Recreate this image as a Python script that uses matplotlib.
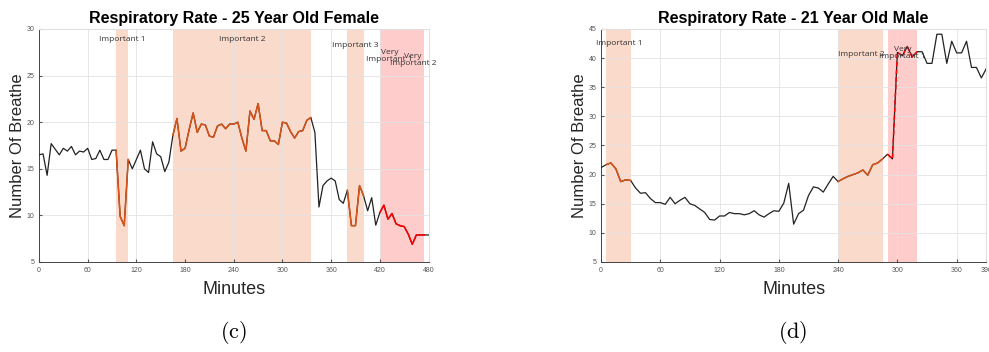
import numpy as np
import matplotlib
matplotlib.use("Agg")
import matplotlib.pyplot as plt

plt.rcParams['font.family'] = ['Liberation Sans', 'DejaVu Sans']
plt.rcParams['mathtext.fontset'] = 'cm'

### DATA ###

# (c) 25 year old female, one reading every 5 minutes
female_min = np.arange(0, 481, 5)
female_rate = [16.5, 16.6, 14.3, 17.7, 17.1, 16.5, 17.2, 16.9, 17.4, 16.5,
               16.9, 16.8, 17.2, 16.0, 16.1, 17.0, 16.0, 16.0, 17.0, 17.0,
               9.9, 8.9, 16.0, 15.0, 16.0, 17.0, 15.0, 14.6, 17.9, 16.6,
               16.3, 14.7, 15.7, 18.6, 20.4, 16.9, 17.2, 19.2, 21.0, 18.9,
               19.8, 19.7, 18.5, 18.4, 19.6, 19.8, 19.3, 19.8, 19.8, 20.0,
               18.3, 16.9, 21.2, 20.3, 22.0, 19.1, 19.1, 18.0, 18.0, 17.6,
               20.0, 19.9, 19.0, 18.3, 19.0, 19.1, 20.2, 20.5, 18.9, 10.9,
               13.2, 13.7, 14.0, 13.7, 11.7, 11.3, 12.7, 8.9, 8.9, 13.2,
               12.1, 10.5, 11.9, 8.95, 10.3, 11.1, 9.6, 10.2, 9.1, 8.9,
               8.8, 8.0, 6.9, 7.9, 7.9, 7.9, 7.9]
female_imp = [(95, 110, 'Important 1', 102, 28.9),
              (165, 335, 'Important 2', 250, 28.9),
              (380, 400, 'Important 3', 390, 28.2)]
female_vimp = [(420, 445, 'Very\nImportant 1', 432, 27.1),
               (445, 475, 'Very\nImportant 2', 461, 26.7)]

# (d) 21 year old male
male_min = np.arange(0, 391, 5)
male_rate = [21.2, 21.7, 22.0, 21.0, 18.8, 19.1, 19.0, 17.7, 16.8, 16.9,
             15.9, 15.2, 15.2, 14.9, 16.1, 15.0, 15.6, 16.1, 15.0, 14.7,
             14.1, 13.5, 12.3, 12.2, 12.9, 12.9, 13.5, 13.3, 13.3, 13.1,
             13.3, 13.8, 13.1, 12.7, 13.3, 13.8, 13.7, 15.1, 18.5, 11.5,
             13.3, 13.9, 16.4, 17.9, 17.7, 17.0, 18.4, 19.7, 18.8, 19.3,
             19.7, 20.0, 20.3, 20.8, 19.9, 21.7, 22.0, 22.7, 23.5, 22.7,
             41.0, 40.4, 42.0, 40.2, 41.1, 41.1, 39.1, 39.1, 44.1, 44.1,
             39.1, 42.9, 40.9, 40.9, 42.9, 38.4, 38.4, 36.6, 38.2]
male_imp = [(5, 30, 'Important 1', 18, 42.5),
            (240, 285, 'Important 2', 263, 40.7)]
male_vimp = [(290, 320, 'Very\nImportant 1', 305, 40.8)]

imp_fill = '#FADACA'
vimp_fill = '#FFCCCC'
imp_line = '#D95319'
vimp_line = '#FF0000'


def draw_panel(ax, t, y, imp, vimp, vdash, xlim, ylim, xticks, yticks, title):
    t = np.asarray(t)
    y = np.asarray(y)
    for a, b, lab, tx, ty in imp:
        ax.axvspan(a, b, color=imp_fill, lw=0, zorder=0)
    for a, b, lab, tx, ty in vimp:
        ax.axvspan(a, b, color=vimp_fill, lw=0, zorder=0)
    ax.plot(t, y, color='#222222', lw=0.9, zorder=3)
    for regions, col, ls in [(imp, imp_line, '-'), (vimp, vimp_line, vdash)]:
        for a, b, lab, tx, ty in regions:
            m = (t >= a) & (t <= b)
            ax.plot(t[m], y[m], color=col, lw=1.1, ls=ls, zorder=4)
    for a, b, lab, tx, ty in imp + vimp:
        ax.text(tx, ty, lab, fontsize=6, ha='center', va='center',
                color='#333333', linespacing=1.0, zorder=5,
                family=['Open Sans', 'DejaVu Sans'])
    ax.set_xlim(*xlim)
    ax.set_ylim(*ylim)
    ax.set_xticks(xticks)
    ax.set_yticks(yticks)
    ax.grid(True, color='#E3E3E3', lw=0.6)
    ax.set_axisbelow(True)
    ax.tick_params(labelsize=5, length=2, direction='in', colors='#555555')
    for s in ['top', 'right']:
        ax.spines[s].set_color('#E0E0E0')
    for s in ['left', 'bottom']:
        ax.spines[s].set_color('#444444')
        ax.spines[s].set_linewidth(0.7)
    ax.set_xlabel('Minutes', fontsize=13, color='#262626', labelpad=5)
    ax.set_ylabel('Number Of Breathe', fontsize=12, color='#262626', labelpad=1)
    ax.set_title(title, fontsize=11.5, fontweight='bold', pad=4)


fig = plt.figure(figsize=(9.89, 3.52), dpi=100)
ax1 = fig.add_axes([39 / 989, 90 / 352, 389.5 / 989, 233 / 352])
ax2 = fig.add_axes([601 / 989, 90 / 352, 385.3 / 989, 233 / 352])

draw_panel(ax1, female_min, female_rate, female_imp, female_vimp, '-',
           (0, 480), (5, 30), range(0, 481, 60), range(5, 31, 5),
           'Respiratory Rate - 25 Year Old Female')
draw_panel(ax2, male_min, male_rate, male_imp, male_vimp, (0, (3, 2)),
           (0, 390), (5, 45), list(range(0, 361, 60)) + [390], range(5, 46, 5),
           'Respiratory Rate - 21 Year Old Male')

fig.text(233 / 989, 1 - 333 / 352, r'$\mathrm{(c)}$', fontsize=16, ha='center', va='center')
fig.text(793 / 989, 1 - 333 / 352, r'$\mathrm{(d)}$', fontsize=16, ha='center', va='center')

fig.savefig('out.png', dpi=100)
